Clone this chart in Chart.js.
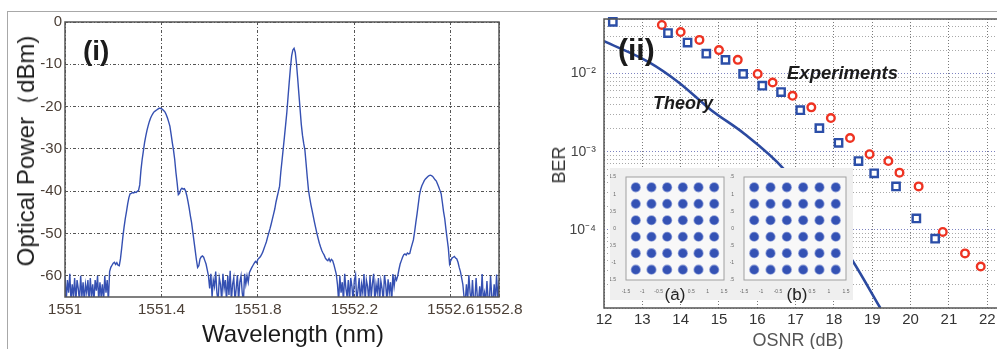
<!DOCTYPE html>
<html>
<head>
<meta charset="utf-8">
<script src="https://cdn.jsdelivr.net/npm/chart.js@4.4.1/dist/chart.umd.min.js"></script>
<style>
  html, body { margin: 0; padding: 0; background: #fff; }
  body { position: relative; width: 997px; height: 349px; overflow: hidden; font-family: "Liberation Sans", Arial, sans-serif; }
  .frame { position: absolute; left: 7px; top: 11px; width: 1000px; height: 400px; border-left: 1px solid #a8a8a8; border-top: 1px solid #a8a8a8; }
  canvas { position: absolute; }
  .txt { position: absolute; line-height: 1; white-space: nowrap; color: #1b1b1b; }
  .rot { transform: translate(-50%, -50%) rotate(-90deg); }
  .center { transform: translateX(-50%); }
  .inset { position: absolute; left: 610px; top: 168px; width: 243px; height: 132px; background: #efefef; }
</style>
</head>
<body>
<div class="frame"></div>
<canvas id="spectrum" width="530" height="349" style="left:0;top:0"></canvas>
<canvas id="ber" width="514" height="349" style="left:500px;top:0"></canvas>
<div class="inset">
  <canvas id="constA" width="120" height="128" style="left:0;top:0"></canvas>
  <canvas id="constB" width="122" height="128" style="left:120px;top:0"></canvas>
  <div class="txt center" style="left:65px;top:118px;font-size:17px;color:#222">(a)</div>
  <div class="txt center" style="left:187px;top:118px;font-size:17px;color:#222">(b)</div>
</div>

<div class="txt" style="left:83px;top:37px;font-size:28px;font-weight:bold">(i)</div>
<div class="txt rot" style="left:26px;top:151px;font-size:24px">Optical Power（dBm)</div>
<div class="txt center" style="left:293px;top:322px;font-size:24px">Wavelength (nm)</div>

<div class="txt" style="left:618px;top:35px;font-size:30px;font-weight:bold">(ii)</div>
<div class="txt" style="left:653px;top:94px;font-size:18px;font-weight:bold;font-style:italic">Theory</div>
<div class="txt" style="left:787px;top:64px;font-size:18.5px;font-weight:bold;font-style:italic">Experiments</div>
<div class="txt rot" style="left:559px;top:165px;font-size:18px;color:#333">BER</div>
<div class="txt center" style="left:798px;top:331px;font-size:18px;color:#555">OSNR (dB)</div>

<script>
// ---- panel (i): optical spectrum, sampled every 5 pm from 1551 nm
const wavelengthStartNm = 1551;
const wavelengthStepNm = 0.005;
const spectrumPowerDbm = [
  // noise floor 1551.000 - 1551.180
  -60, -66, -61, -64, -59.5, -66, -62, -65, -60.5, -66,
  -61, -63, -66, -60, -65, -61.5, -66, -62, -64, -61,
  -66, -60.5, -65, -62, -66, -61, -63.5, -60, -66, -61.5,
  -65, -62, -66, -60, -64, -61, -66,
  // first sideband 1551.185 - 1551.590
  -59, -58, -57.5, -57, -56.8, -57.3, -56.9, -57.5, -57.6, -56,
  -53.5, -50.8, -48.5, -46.5, -44.8, -43, -41.5, -40.6, -40.5, -40.3,
  -40.4, -40.2, -40.3, -40, -39.8, -38.5, -35, -32.5, -30.5, -28.5,
  -27, -25.6, -24.5, -23.5, -22.7, -22.1, -21.6, -21.2, -21, -20.8,
  -20.6, -20.4, -20.4, -20.5, -20.7, -21, -21.3, -21.9, -22.7, -23.6,
  -24.6, -26.5, -28.5, -30.3, -32.5, -35.5, -38, -40.8, -40.5, -39.6,
  -39.3, -39.5, -39.4, -39.9, -41, -42.4, -44, -45.8, -47.4, -49.6,
  -51.8, -54, -56.2, -58, -57.6, -56, -55.5, -55.3, -55.6, -56.4,
  -57.2, -58.6,
  // noise floor 1551.595 - 1551.765
  -60, -63, -59.5, -65, -61, -62.5, -59, -64, -66, -60.5,
  -62, -66, -59.5, -63, -61, -66, -60, -64.5, -58.8, -66,
  -62, -60.5, -66, -63, -59.8, -66, -61.5, -60, -64, -66,
  -59.5, -62, -60, -61.5, -59.2,
  // carrier 1551.770 - 1552.125
  -58.6, -58, -57.5, -57, -56.6, -56.9, -56.1, -55.8, -55.5, -55,
  -54.4, -53.6, -52.8, -52, -50.9, -49.9, -48.9, -47.8, -46.6, -45.4,
  -44.2, -42.6, -41.3, -40.1, -38.8, -35.5, -32.8, -30, -27.2, -24.3,
  -21.4, -17.8, -14.2, -10.8, -8, -6.6, -6.2, -7.2, -9.8, -13.3,
  -17, -20.6, -24.2, -26.8, -28.7, -30.3, -33.5, -36.8, -39.8, -41.6,
  -43.2, -44.6, -46, -47.4, -48.7, -50, -51.2, -52.3, -53.2, -54,
  -54.6, -55.1, -55.8, -56.2, -56.4, -55.9, -56.6, -56.1, -56.4, -57.3,
  -58.4, -59.6,
  // noise floor 1552.130 - 1552.375
  -62, -66, -60, -64, -61.5, -66, -59.5, -63, -65, -61,
  -66, -60.5, -62.5, -66, -61, -59.8, -66, -63.5, -60.5, -66,
  -62, -64, -59.6, -66, -61, -62.5, -66, -60, -65, -61.8,
  -59.5, -66, -62, -64, -60.5, -66, -61.2, -63, -66, -59.8,
  -62, -66, -60.8, -64, -61.5, -66, -59.6, -62.5, -60.2, -61,
  // second sideband 1552.380 - 1552.650
  -60, -58.5, -57.2, -56.4, -55.6, -55, -54.8, -55.1, -54.6, -54.8,
  -54.7, -53.5, -52.5, -51.5, -49.6, -47.4, -45.4, -43.2, -41, -39.6,
  -38.7, -38.1, -37.5, -37.1, -36.8, -36.5, -36.3, -36.2, -36.3, -36.5,
  -36.9, -37.3, -37.6, -38.3, -39, -39.8, -40.6, -42.6, -44.8, -46.5,
  -49, -51.3, -53.5, -57.2, -56.4, -55.8, -55.6, -55.4, -55.8, -56,
  -56.8, -58, -59, -60.5, -62,
  // noise floor 1552.655 - 1552.800
  -65, -66, -62, -66, -59.8, -64, -66, -61, -66, -66,
  -60.5, -65, -66, -62.5, -66, -59.6, -66, -64, -66, -61.2,
  -66, -66, -60, -65, -66, -62, -66, -59.7, -66, -61
];
const wavelengthTicks = [1551, 1551.4, 1551.8, 1552.2, 1552.6, 1552.8];
const wavelengthTickLabels = ["1551", "1551.4", "1551.8", "1552.2", "1552.6", "1552.8"];
const powerTicks = [-60, -50, -40, -30, -20, -10, 0];
const powerTickLabels = ["-60", "-50", "-40", "-30", "-20", "-10", "0"];

// ---- panel (ii): BER vs OSNR
const osnrSquares = [12.23, 13.67, 14.18, 14.67, 15.17, 15.63, 16.13, 16.62, 17.12, 17.62, 18.12, 18.64, 19.05, 19.62, 20.15, 20.64];
const berSquares = [4.6e-2, 3.3e-2, 2.5e-2, 1.8e-2, 1.5e-2, 9.9e-3, 7.0e-3, 5.8e-3, 3.4e-3, 2.0e-3, 1.3e-3, 7.6e-4, 5.3e-4, 3.6e-4, 1.4e-4, 7.7e-5];
const osnrCircles = [13.51, 14.0, 14.49, 15.0, 15.49, 16.01, 16.4, 16.92, 17.41, 17.92, 18.42, 18.93, 19.42, 19.71, 20.21, 20.84, 21.42, 21.83];
const berCircles = [4.2e-2, 3.4e-2, 2.7e-2, 2.0e-2, 1.5e-2, 9.9e-3, 7.7e-3, 5.2e-3, 3.7e-3, 2.7e-3, 1.5e-3, 9.3e-4, 7.6e-4, 5.4e-4, 3.6e-4, 9.4e-5, 5.0e-5, 3.4e-5];
const osnrTheory = [12.0, 13.18, 13.95, 14.8, 15.66, 16.68, 18.41, 19.21];
const berTheory = [2.6e-2, 1.39e-2, 7.7e-3, 3.4e-3, 1.7e-3, 6.1e-4, 4.6e-5, 1.0e-5];
const osnrTicks = [12, 13, 14, 15, 16, 17, 18, 19, 20, 21, 22];
const osnrTickLabels = ["12", "13", "14", "15", "16", "17", "18", "19", "20", "21", "22"];
const berDecades = [1e-5, 1e-4, 1e-3, 1e-2];
const berMajorTicks = [1e-4, 1e-3, 1e-2];
const berMajorLabels = ["10⁻⁴", "10⁻³", "10⁻²"];

// ---- insets: received constellations
const constellationLevelsA = [-1.2, -0.72, -0.24, 0.24, 0.72, 1.2];
const constellationLevelsB = [-1.2, -0.72, -0.24, 0.24, 0.72, 1.2];
const constellationTicks = [-1.5, -1, -0.5, 0, 0.5, 1, 1.5];
const constellationTickLabels = ["-1.5", "-1", "-0.5", "0", "0.5", "1", "1.5"];

(function () {
  "use strict";

  const FONT = "'Liberation Sans', Arial, sans-serif";

  // strokes the whole plot box (Chart.js only draws left/bottom borders)
  const frameBox = {
    id: "frameBox",
    beforeDraw(chart, args, opts) {
      if (!opts.fill) return;
      const { ctx, chartArea: a } = chart;
      ctx.save();
      ctx.fillStyle = opts.fill;
      ctx.fillRect(a.left, a.top, a.right - a.left, a.bottom - a.top);
      ctx.restore();
    },
    afterDraw(chart, args, opts) {
      const { ctx, chartArea: a } = chart;
      ctx.save();
      ctx.strokeStyle = opts.color || "#555";
      ctx.lineWidth = opts.width || 1;
      ctx.strokeRect(a.left, a.top, a.right - a.left, a.bottom - a.top);
      ctx.restore();
    },
  };

  const fixedTicks = (values) => (scale) => {
    scale.ticks = values.map((v) => ({ value: v }));
  };
  const labelFrom = (values, labels) => (v) => {
    const i = values.findIndex((t) => Math.abs(t - v) < 1e-9 * Math.max(1, Math.abs(t)));
    return i < 0 ? "" : labels[i];
  };

  function renderSpectrum() {
    const points = spectrumPowerDbm.map((p, i) => ({
      x: wavelengthStartNm + i * wavelengthStepNm,
      y: p,
    }));
    new Chart(document.getElementById("spectrum"), {
      type: "line",
      data: {
        datasets: [{
          data: points,
          borderColor: "#3550b2",
          borderWidth: 1.4,
          pointRadius: 0,
          tension: 0,
          clip: 0,
        }],
      },
      options: {
        responsive: false,
        animation: false,
        devicePixelRatio: 1,
        layout: { padding: { top: 22, right: 31, left: 0, bottom: 0 } },
        plugins: {
          legend: { display: false },
          tooltip: { enabled: false },
          frameBox: { color: "#555", width: 1.5 },
        },
        scales: {
          x: {
            type: "linear",
            min: 1551,
            max: 1552.8,
            afterBuildTicks: fixedTicks(wavelengthTicks),
            afterFit: (s) => { s.height = 52; },
            border: { display: false, dash: [3, 2, 1, 2] },
            grid: { color: "#555", lineWidth: 1, drawTicks: false },
            ticks: {
              autoSkip: false,
              maxRotation: 0,
              minRotation: 0,
              padding: 3,
              color: "#4b3f36",
              font: { family: FONT, size: 15.5 },
              callback: labelFrom(wavelengthTicks, wavelengthTickLabels),
            },
          },
          y: {
            min: -65,
            max: 0,
            afterBuildTicks: fixedTicks(powerTicks),
            afterFit: (s) => { s.width = 65; },
            border: { display: false, dash: [3, 2, 1, 2] },
            grid: { color: "#555", lineWidth: 1, drawTicks: false },
            ticks: {
              padding: 3,
              color: "#4b3f36",
              font: { family: FONT, size: 15 },
              callback: labelFrom(powerTicks, powerTickLabels),
            },
          },
        },
      },
      plugins: [frameBox],
    });
  }

  function renderBer() {
    const berGrid = [];
    berDecades.forEach((d) => {
      for (let m = 1; m <= 9; m++) {
        const v = +(d * m).toPrecision(3);
        if (v <= 0.05) berGrid.push(v);
      }
    });
    const isMajor = (v) => berMajorTicks.some((t) => Math.abs(t - v) < t * 1e-6);

    new Chart(document.getElementById("ber"), {
      type: "scatter",
      data: {
        datasets: [
          {
            label: "Squares",
            data: osnrSquares.map((x, i) => ({ x, y: berSquares[i] })),
            pointStyle: "rect",
            pointRadius: 5.2,
            borderColor: "#2b4ea8",
            borderWidth: 2.4,
            backgroundColor: "rgba(255,255,255,0.9)",
            clip: false,
          },
          {
            label: "Circles",
            data: osnrCircles.map((x, i) => ({ x, y: berCircles[i] })),
            pointStyle: "circle",
            pointRadius: 3.8,
            borderColor: "#ee3322",
            borderWidth: 2.4,
            backgroundColor: "rgba(255,255,255,0.9)",
            clip: false,
          },
          {
            label: "Theory",
            data: osnrTheory.map((x, i) => ({ x, y: berTheory[i] })),
            showLine: true,
            borderColor: "#2c4aa0",
            borderWidth: 2.6,
            pointRadius: 0,
            cubicInterpolationMode: "monotone",
            clip: 0,
          },
        ],
      },
      options: {
        responsive: false,
        animation: false,
        devicePixelRatio: 1,
        layout: { padding: { top: 19, right: 0, left: 0, bottom: 0 } },
        plugins: {
          legend: { display: false },
          tooltip: { enabled: false },
          frameBox: { color: "#555", width: 1.5 },
        },
        scales: {
          x: {
            type: "linear",
            min: 12,
            max: 22.5,
            afterBuildTicks: fixedTicks(osnrTicks),
            afterFit: (s) => { s.height = 41; },
            border: { display: false, dash: [1, 2] },
            grid: { color: "#7a7a7a", lineWidth: 1, drawTicks: false },
            ticks: {
              autoSkip: false,
              maxRotation: 0,
              padding: 3,
              color: "#333",
              font: { family: FONT, size: 15 },
              callback: labelFrom(osnrTicks, osnrTickLabels),
            },
          },
          y: {
            type: "logarithmic",
            min: 1e-5,
            max: 0.05,
            afterBuildTicks: fixedTicks(berGrid),
            afterFit: (s) => { s.width = 104; },
            border: { display: false, dash: [1, 2] },
            grid: {
              drawTicks: false,
              lineWidth: 1,
              color: (ctx) => (ctx.tick && isMajor(ctx.tick.value) ? "#7c82c0" : "#a9a9a9"),
            },
            ticks: {
              autoSkip: false,
              padding: 8,
              color: "#444",
              font: { family: FONT, size: 14 },
              callback: (v) => (isMajor(v) ? labelFrom(berMajorTicks, berMajorLabels)(v) : ""),
            },
          },
        },
      },
      plugins: [frameBox],
    });
  }

  function renderConstellation(id, levels, plotLeft) {
    const symbols = levels.flatMap((i) => levels.map((q) => ({ x: i, y: q })));
    const tickOpts = {
      autoSkip: false,
      maxRotation: 0,
      color: "#666",
      font: { family: FONT, size: 5 },
      callback: labelFrom(constellationTicks, constellationTickLabels),
    };
    new Chart(document.getElementById(id), {
      type: "scatter",
      data: {
        datasets: [{
          data: symbols,
          pointRadius: 4.3,
          backgroundColor: "#3452b4",
          borderColor: "rgba(60,90,190,0.55)",
          borderWidth: 1.6,
        }],
      },
      options: {
        responsive: false,
        animation: false,
        devicePixelRatio: 1,
        layout: { padding: { top: 9, right: 6, left: 0, bottom: 0 } },
        plugins: {
          legend: { display: false },
          tooltip: { enabled: false },
          frameBox: { color: "#a0a0a0", width: 1, fill: "#f8f8f8" },
        },
        scales: {
          x: {
            min: -1.5,
            max: 1.5,
            afterBuildTicks: fixedTicks(constellationTicks),
            afterFit: (s) => { s.height = 16; },
            border: { display: false },
            grid: { display: false },
            ticks: Object.assign({ padding: 1 }, tickOpts),
          },
          y: {
            min: -1.5,
            max: 1.5,
            afterBuildTicks: fixedTicks(constellationTicks),
            afterFit: (s) => { s.width = plotLeft; },
            border: { display: false },
            grid: { display: false },
            ticks: Object.assign({ padding: 2 }, tickOpts),
          },
        },
      },
      plugins: [frameBox],
    });
  }

  renderSpectrum();
  renderBer();
  renderConstellation("constA", constellationLevelsA, 16);
  renderConstellation("constB", constellationLevelsB, 14);
})();
</script>
</body>
</html>
